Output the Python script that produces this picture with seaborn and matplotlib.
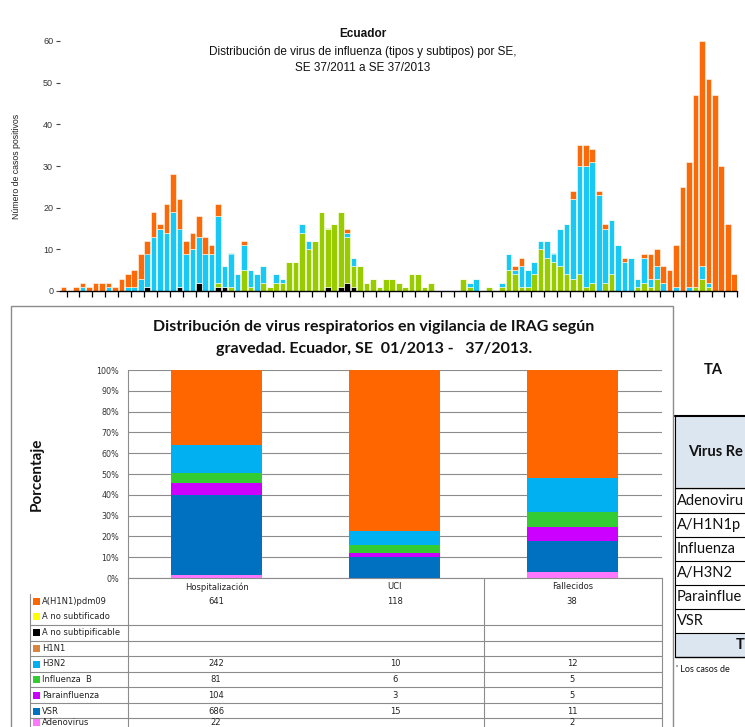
import numpy as np
import pandas as pd
import matplotlib
matplotlib.use("Agg")
import matplotlib.pyplot as plt
import seaborn as sns
from matplotlib.lines import Line2D
from matplotlib.patches import Rectangle
from matplotlib.ticker import PercentFormatter, NullFormatter

# ---------------- DATA: top chart (SE 37/2011 ... SE 37/2013, 105 weeks) ----------------
semanas = list(range(105))
h1n1pdm = [1, 0, 1, 1, 1, 2, 2, 1, 1, 3,
           3, 4, 6, 3, 6, 1, 7, 9, 7, 3,
           4, 5, 4, 2, 3, 0, 0, 0, 1, 0,
           0, 0, 0, 0, 0, 0, 0, 0, 0, 0,
           0, 0, 0, 0, 1, 0, 0, 0, 0, 0,
           0, 0, 0, 0, 0, 0, 0, 0, 0, 0,
           0, 0, 0, 0, 0, 0, 0, 0, 0, 0,
           1, 2, 0, 0, 0, 0, 0, 0, 0, 2,
           5, 5, 3, 1, 1, 0, 0, 1, 0, 0,
           1, 6, 4, 4, 5, 10, 25, 30, 46, 54,
           49, 47, 30, 16, 4]
h3n2 = [0, 0, 0, 1, 0, 0, 0, 1, 0, 0,
        1, 1, 3, 8, 13, 15, 14, 19, 14, 9,
        10, 11, 9, 9, 16, 5, 8, 4, 6, 4,
        4, 4, 0, 2, 1, 0, 0, 2, 2, 0,
        0, 0, 0, 0, 1, 2, 0, 0, 0, 0,
        0, 0, 0, 0, 0, 0, 0, 0, 0, 0,
        0, 0, 0, 1, 3, 0, 0, 0, 1, 4,
        1, 5, 4, 3, 2, 4, 2, 9, 12, 19,
        26, 29, 29, 23, 13, 13, 11, 7, 8, 2,
        6, 2, 3, 2, 0, 1, 0, 1, 0, 3,
        1, 0, 0, 0, 0]
flu_b = [0, 0, 0, 0, 0, 0, 0, 0, 0, 0,
         0, 0, 0, 0, 0, 0, 0, 0, 0, 0,
         0, 0, 0, 0, 1, 0, 1, 0, 5, 1,
         0, 2, 1, 2, 2, 7, 7, 14, 10, 12,
         19, 14, 16, 18, 11, 5, 6, 2, 3, 1,
         3, 3, 2, 1, 4, 4, 1, 2, 0, 0,
         0, 0, 3, 1, 0, 0, 1, 0, 1, 5,
         4, 1, 1, 4, 10, 8, 7, 6, 4, 3,
         4, 1, 2, 0, 2, 4, 0, 0, 0, 1,
         2, 1, 3, 0, 0, 0, 0, 0, 1, 3,
         1, 0, 0, 0, 0]
a_no_subtipif = [0, 0, 0, 0, 0, 0, 0, 0, 0, 0,
                 0, 0, 0, 1, 0, 0, 0, 0, 1, 0,
                 0, 2, 0, 0, 1, 1, 0, 0, 0, 0,
                 0, 0, 0, 0, 0, 0, 0, 0, 0, 0,
                 0, 1, 0, 1, 2, 1, 0, 0, 0, 0,
                 0, 0, 0, 0, 0, 0, 0, 0, 0, 0,
                 0, 0, 0, 0, 0, 0, 0, 0, 0, 0,
                 0, 0, 0, 0, 0, 0, 0, 0, 0, 0,
                 0, 0, 0, 0, 0, 0, 0, 0, 0, 0,
                 0, 0, 0, 0, 0, 0, 0, 0, 0, 0,
                 0, 0, 0, 0, 0]
tipos_top = ["A(H1N1)pdm09", "H3N2", "B", "A no subtipificable"]
colores_top = ["#FA6A0A", "#1AC8F5", "#99CC00", "#000000"]

# ---------------- DATA: bottom chart ----------------
gravedad = ["Hospitalización", "UCI", "Fallecidos"]
virus = ["A(H1N1)pdm09", "A no subtificado", "A no subtipificable", "H1N1",
         "H3N2", "Influenza  B", "Parainfluenza", "VSR", "Adenovirus"]
hosp = [641, None, None, None, 242, 81, 104, 686, 22]
uci = [118, None, None, None, 10, 6, 3, 15, None]
fallecidos = [38, None, None, None, 12, 5, 5, 11, 2]
colores_virus = ["#FF6600", "#FFFF00", "#000000", "#D9843F", "#00B0F0",
                 "#33CC33", "#CC00FF", "#0070C0", "#FF77FF"]

# right (cropped) table: the visible part of its texts
tabla_der_titulo = "TA"
tabla_der_encabezado = "Virus Re"
tabla_der_filas = ["Adenoviru", "A/H1N1p", "Influenza", "A/H3N2", "Parainflue", "VSR"]
tabla_der_total = "T"
tabla_der_nota = "' Los casos de"

# ---------------- styling ----------------
sns.set_theme(style="white")
plt.rcParams["font.family"] = ["Liberation Sans", "DejaVu Sans"]

W, H = 745, 727
fig = plt.figure(figsize=(W / 100, H / 100), dpi=100)

def fx(px):
    return px / W

def fy(py):
    return 1 - py / H

# ---------------- top chart ----------------
ax1 = fig.add_axes([fx(60.1), fy(291), fx(737.4 - 60.1), (291 - 41) / H])
series_top = [h1n1pdm, h3n2, flu_b, a_no_subtipif]
df_top = pd.DataFrame({
    "semana": np.tile(semanas, len(tipos_top)),
    "tipo": np.repeat(tipos_top, len(semanas)),
    "casos": np.concatenate([np.array(s, dtype=float) for s in series_top]),
})
sns.histplot(data=df_top, x="semana", weights="casos", hue="tipo",
             hue_order=tipos_top, palette=dict(zip(tipos_top, colores_top)),
             multiple="stack", discrete=True, shrink=0.87, alpha=1,
             edgecolor="#FFFFF2", linewidth=0.4, legend=False, ax=ax1)
ax1.set_xlim(-0.5, 104.5)
ax1.set_ylim(0, 60)
ax1.set_yticks(range(0, 61, 10))
ax1.set_xticks(np.arange(0.5, 105, 2))
ax1.xaxis.set_major_formatter(NullFormatter())
ax1.tick_params(axis="x", length=4, width=0.9, color="black", direction="out", bottom=True)
ax1.tick_params(axis="y", length=3, width=0.8, color="#444444", pad=2,
                labelsize=6.5, labelcolor="#333333", left=True)
for s in ["top", "right", "left"]:
    ax1.spines[s].set_visible(False)
ax1.spines["bottom"].set_color("black")
ax1.spines["bottom"].set_linewidth(1.0)
ax1.set_xlabel("")
ax1.set_ylabel("")

# ---------------- bottom chart ----------------
ax2 = fig.add_axes([fx(127.5), fy(578), fx(661.5 - 127.5), (578 - 370) / H])
cols = [hosp, uci, fallecidos]
rows = []
for gi, g in enumerate(gravedad):
    for vi, v in enumerate(virus):
        val = cols[gi][vi]
        rows.append({"pos": gi, "virus": v, "casos": 0.0 if val is None else float(val)})
df_bot = pd.DataFrame(rows)
sns.histplot(data=df_bot, x="pos", weights="casos", hue="virus", hue_order=virus,
             palette=dict(zip(virus, colores_virus)), multiple="fill",
             discrete=True, shrink=0.515, alpha=1, linewidth=0, legend=False, ax=ax2)
ax2.set_xlim(-0.5, 2.5)
ax2.set_ylim(0, 1)
ax2.set_yticks(np.linspace(0, 1, 11))
ax2.yaxis.set_major_formatter(PercentFormatter(1.0, decimals=0))
ax2.set_xticks(range(len(gravedad)))
ax2.set_xticklabels(gravedad, fontsize=6, family="DejaVu Sans", color="#222222")
ax2.tick_params(axis="x", length=0, pad=3)
ax2.tick_params(axis="y", length=0, pad=6, labelsize=5.8, labelcolor="#333333")
for lab in ax2.get_yticklabels():
    lab.set_family("DejaVu Sans")
ax2.set_axisbelow(True)
ax2.yaxis.grid(True, color="#8C8C8C", linewidth=0.8)
ax2.xaxis.grid(False)
for s in ["top", "right"]:
    ax2.spines[s].set_visible(False)
for s in ["left", "bottom"]:
    ax2.spines[s].set_color("#8C8C8C")
    ax2.spines[s].set_linewidth(0.8)
ax2.set_xlabel("")
ax2.set_ylabel("")

# ---------------- overlay for texts, table and frames ----------------
ov = fig.add_axes([0, 0, 1, 1], zorder=5)
ov.set_xlim(0, W)
ov.set_ylim(H, 0)
ov.axis("off")
ov.patch.set_alpha(0)

# top titles
ov.text(363, 34, "Ecuador", ha="center", va="center", fontsize=8.5, fontweight="bold", color="#111111")
ov.text(363, 52, "Distribución de virus de influenza (tipos y subtipos) por SE,",
        ha="center", va="center", fontsize=8.5, color="#111111")
ov.text(363, 68, "SE 37/2011 a SE 37/2013", ha="center", va="center", fontsize=8.5, color="#111111")
ov.text(17, 166, "Número de casos positivos", rotation=90, ha="center", va="center",
        fontsize=6.3, color="#222222")

# bottom frame
ov.add_patch(Rectangle((11, 306), 662, 500, fill=False, edgecolor="#8C8C8C", linewidth=1.0))

# bottom title
ov.text(374, 327, "Distribución de virus respiratorios en vigilancia de IRAG según",
        ha="center", va="center", fontsize=11.5, fontweight="bold", family="Lato", color="#111111")
ov.text(374, 349, "gravedad. Ecuador, SE  01/2013 -   37/2013.",
        ha="center", va="center", fontsize=11.5, fontweight="bold", family="Lato", color="#111111")
ov.text(37, 474, "Porcentaje", rotation=90, ha="center", va="center",
        fontsize=11, fontweight="bold", family="Lato", color="#111111")

# data table under the bottom chart
gcol = "#8C8C8C"
row_y = [601.7, 616.7, 632.5, 648.5, 664, 679.5, 695.5, 711, 722.3]
bounds = [624.7, 640.5, 656.3, 671.8, 687.3, 702.8, 718.3]
for x in [127.5, 483.5, 661.5]:
    ov.add_line(Line2D([x, x], [578, 740], color=gcol, linewidth=0.8))
ov.add_line(Line2D([30, 30], [594, 740], color=gcol, linewidth=0.8))
for b in bounds:
    ov.add_line(Line2D([30, 661.5], [b, b], color=gcol, linewidth=0.8))
col_x = [216, 395, 572]
for vi, v in enumerate(virus):
    y = row_y[vi]
    ov.add_patch(Rectangle((33, y - 3.5), 7, 7, facecolor=colores_virus[vi], edgecolor="none"))
    ov.text(42, y, v, ha="left", va="center", fontsize=6, family="DejaVu Sans", color="#222222")
    for gi in range(len(gravedad)):
        val = cols[gi][vi]
        if val is not None:
            ov.text(col_x[gi], y, str(val), ha="center", va="center", fontsize=6,
                    family="DejaVu Sans", color="#222222")

# right cropped table
ov.text(704, 370, tabla_der_titulo, ha="left", va="center", fontsize=10.5, fontweight="bold",
        family="Lato", color="#111111")
ov.add_patch(Rectangle((675, 416), 80, 71, facecolor="#DCE6F1", edgecolor="none"))
ov.add_patch(Rectangle((675, 633), 80, 24, facecolor="#DCE6F1", edgecolor="none"))
ov.add_line(Line2D([675, 760], [416, 416], color="black", linewidth=1.5))
ov.add_line(Line2D([675, 760], [487.5, 487.5], color="black", linewidth=1.0))
ov.add_line(Line2D([675, 675], [416, 657], color="black", linewidth=0.8))
ov.text(688, 452, tabla_der_encabezado, ha="left", va="center", fontsize=10.5,
        fontweight="bold", family="Lato", color="#111111")
for i, t in enumerate(tabla_der_filas):
    y = 501 + 24 * i
    ov.text(677, y, t, ha="left", va="center", fontsize=10.5, family="Lato", color="#111111")
    ov.add_line(Line2D([675, 760], [y + 12, y + 12], color="black", linewidth=0.8))
ov.text(736, 645, tabla_der_total, ha="left", va="center", fontsize=10.5, fontweight="bold",
        family="Lato", color="#111111")
ov.add_line(Line2D([675, 760], [657, 657], color="black", linewidth=1.0))
ov.text(676, 669, tabla_der_nota, ha="left", va="center", fontsize=6.5,
        family="Lato", color="#111111")

fig.savefig("out.png", dpi=100)
